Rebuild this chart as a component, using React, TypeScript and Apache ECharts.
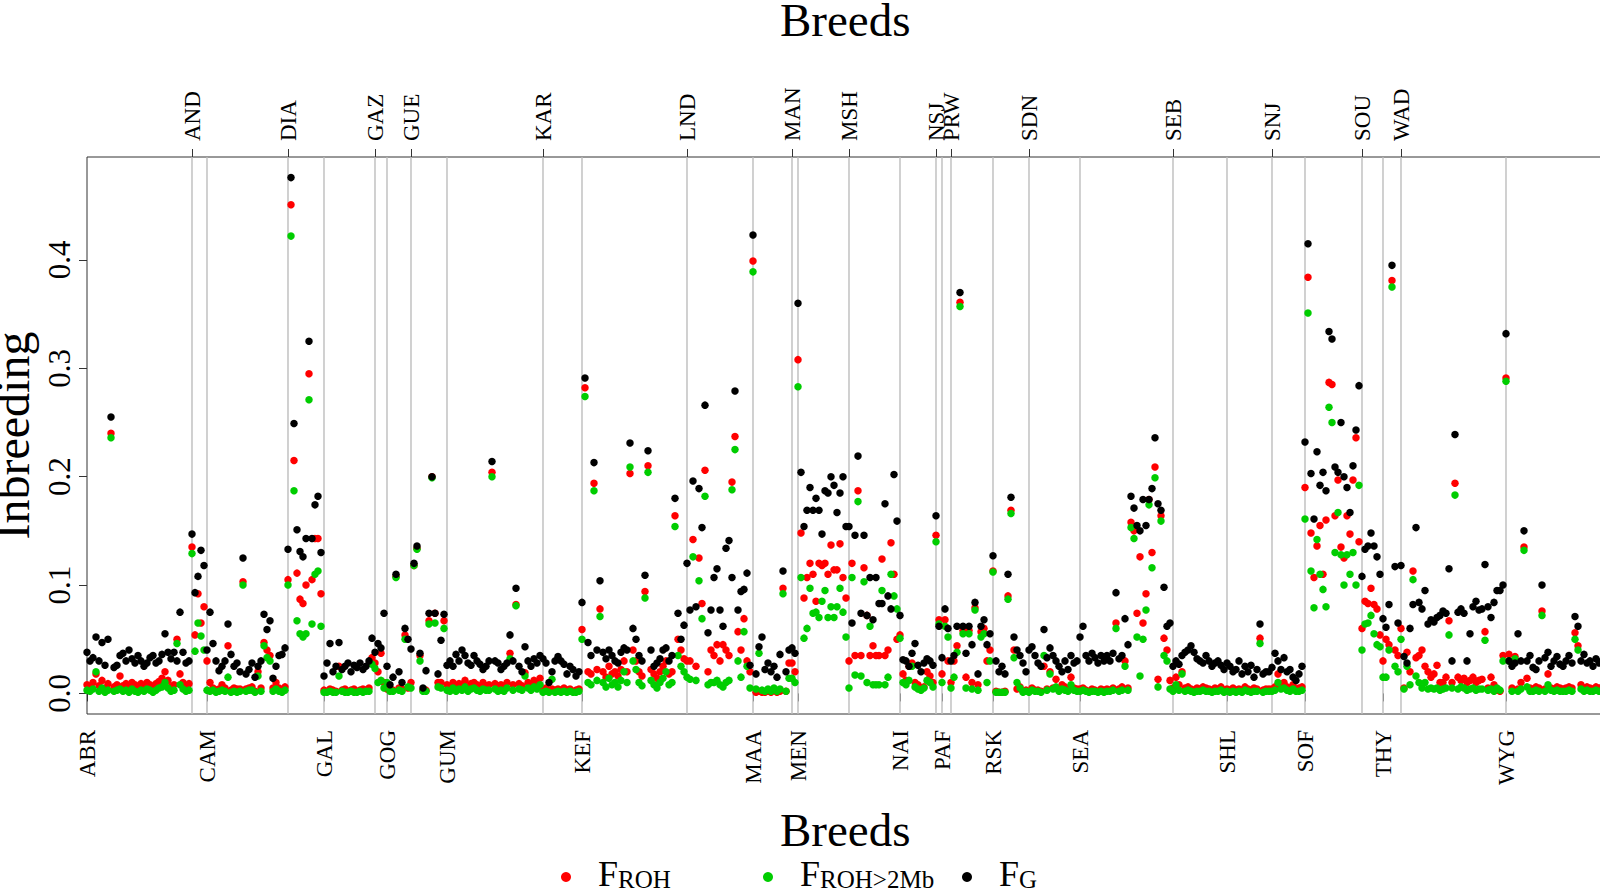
import React, { useEffect, useRef } from 'react';
import * as echarts from 'echarts';

// Breeds in plotting order (labels alternate bottom / top axis)
const breeds = ['ABR','AND','CAM','DIA','GAL','GAZ','GOG','GUE','GUM','KAR','KEF','LND','MAA','MAN','MEN','MSH','NAI','NSJ','PAF','PRW','RSK','SDN','SEA','SEB','SHL','SNJ','SOF','SOU','THY','WAD','WYG'];

// F_ROH per animal, one row per breed
const fROH: number[][] = [
  [0.008,0.006,0.01,0.018,0.007,0.012,0.005,0.009,0.24,0.006,0.008,0.016,0.007,0.009,0.006,0.01,0.008,0.006,0.009,0.007,0.01,0.008,0.006,0.009,0.011,0.014,0.02,0.012,0.006,0.008,0.05,0.018,0.01,0.007,0.009],
  [0.135,0.054,0.092,0.065,0.08],
  [0.03,0.01,0.005,0.003,0.004,0.008,0.005,0.044,0.003,0.005,0.004,0.004,0.103,0.004,0.005,0.006,0.002,0.02,0.005,0.047,0.04,0.035,0.005,0.01,0.005,0.003,0.006],
  [0.105,0.451,0.215,0.111,0.087,0.083,0.1,0.295,0.105,0.143,0.143,0.092],
  [0.003,0.002,0.004,0.003,0.002,0.025,0.003,0.004,0.002,0.003,0.004,0.002,0.003,0.004,0.003,0.005,0.033],
  [0.028,0.02,0.037,0.01],
  [0.004,0.003,0.003,0.108,0.005,0.004,0.054,0.005],
  [0.01,0.118,0.134,0.035,0.003,0.003,0.067,0.2,0.074,0.01,0.01,0.067],
  [0.008,0.006,0.01,0.007,0.009,0.008,0.012,0.006,0.009,0.01,0.008,0.006,0.01,0.007,0.008,0.204,0.009,0.007,0.008,0.006,0.01,0.037,0.008,0.082,0.009,0.007,0.019,0.01,0.008,0.012,0.009,0.014],
  [0.003,0.005,0.002,0.004,0.003,0.004,0.003,0.005,0.003,0.004,0.002,0.003,0.004],
  [0.059,0.282,0.02,0.018,0.194,0.022,0.078,0.02,0.015,0.025,0.018,0.02,0.016,0.022,0.03,0.02,0.203,0.04,0.03,0.02,0.016,0.094,0.21,0.022,0.018,0.014,0.02,0.025,0.03,0.018,0.02,0.164,0.05,0.04,0.032],
  [0.03,0.03,0.142,0.025,0.125,0.083,0.206,0.02,0.04,0.035,0.045,0.03,0.045,0.04,0.035,0.195,0.237,0.057,0.04,0.069,0.03,0.02],
  [0.399,0.001,0.002,0.001,0.001,0.002,0.001,0.003,0.001,0.002,0.097,0.002,0.028],
  [0.028,0.02],
  [0.308,0.148,0.088,0.107,0.12,0.11,0.085,0.12,0.118,0.12,0.11,0.137,0.114,0.114,0.138,0.107,0.088],
  [0.03,0.12,0.035,0.187,0.035,0.116,0.072,0.035,0.044,0.035,0.035,0.124,0.035,0.04,0.139,0.11,0.05],
  [0.054,0.018,0.012,0.025,0.028,0.01,0.008,0.005,0.006,0.02,0.016,0.01],
  [0.146,0.068],
  [0.018,0.068,0.03],
  [0.01,0.03,0.044,0.361,0.058,0.015,0.058,0.01,0.079,0.008,0.057,0.06,0.03,0.04],
  [0.113,0.002,0.001,0.001,0.002,0.09,0.169,0.04,0.004,0.006,0.002,0.003],
  [0.002,0.005,0.003,0.003,0.002,0.025,0.004,0.02,0.005,0.013,0.003,0.008,0.006,0.003,0.015,0.005,0.004],
  [0.004,0.005,0.003,0.002,0.004,0.003,0.002,0.004,0.003,0.004,0.003,0.005,0.065,0.004,0.006,0.03,0.005,0.158,0.15,0.074,0.126,0.065,0.092,0.179,0.13,0.209,0.013,0.164,0.051,0.04,0.012],
  [0.005,0.015,0.008,0.02,0.005,0.006,0.004,0.003,0.005,0.004,0.006,0.005,0.004,0.003,0.005,0.004,0.006,0.003],
  [0.004,0.003,0.005,0.003,0.004,0.003,0.006,0.004,0.003,0.005,0.004,0.051,0.003,0.004,0.004],
  [0.004,0.006,0.018,0.008,0.01,0.006,0.005,0.008,0.004,0.005,0.006],
  [0.19,0.384,0.148,0.107,0.136,0.155,0.11,0.16,0.287,0.285,0.164,0.197,0.135,0.125,0.164,0.147,0.197,0.236,0.14],
  [0.06,0.085,0.083,0.097,0.082,0.078,0.054],
  [0.03,0.05,0.045,0.381,0.04,0.035],
  [0.06,0.005,0.038,0.02,0.113,0.033,0.035,0.04,0.025,0.02,0.015,0.018,0.026,0.01,0.01,0.015,0.067,0.01,0.194,0.015,0.012,0.014,0.01,0.012,0.015,0.01,0.012,0.013,0.057,0.005,0.015,0.008,0.003,0.002,0.035],
  [0.291,0.036,0.005,0.034,0.004,0.01,0.135,0.014,0.005,0.004,0.006,0.005,0.076,0.004,0.018,0.005,0.004,0.006,0.005,0.004,0.005,0.006,0.005,0.056,0.044,0.008,0.005,0.006,0.005,0.004,0.006,0.005,0.004],
];

// F_ROH>2Mb per animal
const fROH2: number[][] = [
  [0.003,0.002,0.004,0.02,0.002,0.005,0.001,0.003,0.236,0.002,0.003,0.004,0.002,0.003,0.001,0.004,0.002,0.001,0.003,0.002,0.004,0.003,0.001,0.003,0.005,0.006,0.01,0.005,0.002,0.003,0.046,0.008,0.004,0.002,0.003],
  [0.129,0.039,0.065,0.053,0.04],
  [0.003,0.002,0.003,0.001,0.002,0.003,0.002,0.015,0.001,0.002,0.001,0.002,0.1,0.002,0.003,0.003,0.001,0.016,0.002,0.044,0.033,0.03,0.002,0.004,0.002,0.001,0.003],
  [0.1,0.422,0.187,0.067,0.055,0.052,0.055,0.271,0.064,0.11,0.113,0.062],
  [0.001,0.001,0.002,0.001,0.001,0.016,0.002,0.001,0.001,0.002,0.001,0.001,0.002,0.001,0.002,0.002,0.027],
  [0.023,0.01,0.012,0.005],
  [0.01,0.002,0.002,0.107,0.003,0.002,0.05,0.006],
  [0.005,0.118,0.133,0.03,0.002,0.002,0.064,0.199,0.065,0.006,0.005,0.06],
  [0.003,0.002,0.005,0.002,0.004,0.003,0.006,0.002,0.004,0.005,0.003,0.002,0.004,0.003,0.003,0.2,0.004,0.002,0.003,0.002,0.005,0.032,0.003,0.081,0.004,0.003,0.016,0.005,0.003,0.006,0.004,0.008],
  [0.001,0.002,0.001,0.013,0.001,0.002,0.001,0.002,0.001,0.002,0.001,0.001,0.002],
  [0.05,0.274,0.01,0.008,0.187,0.012,0.071,0.01,0.006,0.014,0.008,0.01,0.006,0.012,0.02,0.01,0.209,0.03,0.022,0.01,0.007,0.088,0.204,0.012,0.008,0.005,0.01,0.014,0.02,0.008,0.01,0.154,0.035,0.025,0.02],
  [0.015,0.013,0.126,0.012,0.104,0.069,0.182,0.008,0.01,0.01,0.012,0.008,0.006,0.01,0.012,0.188,0.225,0.03,0.015,0.057,0.025,0.005],
  [0.389,0.004,0.037,0.003,0.002,0.004,0.002,0.005,0.002,0.004,0.092,0.002,0.014],
  [0.014,0.01],
  [0.283,0.107,0.051,0.06,0.097,0.074,0.075,0.07,0.085,0.095,0.07,0.08,0.07,0.08,0.097,0.075,0.052],
  [0.005,0.107,0.017,0.177,0.016,0.103,0.01,0.062,0.008,0.008,0.008,0.095,0.008,0.015,0.11,0.09,0.078],
  [0.051,0.01,0.008,0.012,0.025,0.006,0.004,0.003,0.005,0.012,0.01,0.006],
  [0.14,0.064],
  [0.01,0.062,0.052],
  [0.005,0.015,0.038,0.357,0.055,0.005,0.055,0.004,0.077,0.003,0.052,0.055,0.01,0.03],
  [0.112,0.001,0.001,0.001,0.001,0.087,0.166,0.033,0.01,0.005,0.001,0.002],
  [0.001,0.003,0.002,0.002,0.001,0.035,0.003,0.018,0.004,0.006,0.002,0.004,0.003,0.002,0.008,0.003,0.002],
  [0.002,0.003,0.002,0.001,0.002,0.002,0.001,0.002,0.001,0.002,0.002,0.003,0.06,0.002,0.003,0.025,0.003,0.153,0.143,0.052,0.016,0.05,0.077,0.174,0.116,0.199,0.006,0.159,0.035,0.03,0.004],
  [0.002,0.008,0.003,0.018,0.002,0.003,0.002,0.001,0.002,0.002,0.003,0.002,0.002,0.001,0.002,0.002,0.003,0.001],
  [0.002,0.001,0.002,0.001,0.002,0.001,0.003,0.002,0.001,0.002,0.002,0.046,0.001,0.002,0.002],
  [0.002,0.003,0.01,0.004,0.005,0.003,0.002,0.004,0.002,0.002,0.003],
  [0.161,0.351,0.113,0.079,0.142,0.11,0.096,0.08,0.264,0.25,0.13,0.167,0.128,0.1,0.128,0.11,0.13,0.1,0.192],
  [0.04,0.064,0.065,0.072,0.055,0.045,0.043],
  [0.015,0.015,0.04,0.375,0.025,0.02],
  [0.05,0.004,0.025,0.008,0.105,0.016,0.01,0.005,0.01,0.004,0.005,0.004,0.005,0.003,0.004,0.005,0.054,0.005,0.183,0.004,0.006,0.005,0.003,0.004,0.005,0.003,0.004,0.004,0.049,0.003,0.004,0.002,0.005,0.003,0.03],
  [0.288,0.03,0.002,0.032,0.002,0.004,0.132,0.006,0.002,0.002,0.003,0.002,0.072,0.002,0.008,0.003,0.002,0.003,0.002,0.002,0.002,0.003,0.002,0.05,0.04,0.004,0.002,0.003,0.002,0.002,0.003,0.002,0.002],
];

// F_G (genomic relationship based) per animal
const fG: number[][] = [
  [0.038,0.03,0.033,0.052,0.03,0.047,0.026,0.05,0.255,0.024,0.026,0.035,0.037,0.03,0.04,0.032,0.028,0.035,0.03,0.025,0.028,0.033,0.035,0.028,0.03,0.036,0.055,0.038,0.032,0.038,0.03,0.075,0.038,0.028,0.03],
  [0.147,0.093,0.108,0.132,0.118],
  [0.04,0.075,0.046,0.03,0.021,0.025,0.03,0.064,0.036,0.025,0.028,0.02,0.125,0.018,0.022,0.028,0.015,0.025,0.03,0.073,0.059,0.067,0.014,0.025,0.035,0.036,0.042],
  [0.133,0.476,0.249,0.151,0.131,0.126,0.143,0.325,0.143,0.174,0.182,0.13],
  [0.016,0.028,0.046,0.02,0.025,0.047,0.022,0.025,0.028,0.02,0.026,0.024,0.028,0.022,0.025,0.03,0.051],
  [0.038,0.046,0.042,0.074],
  [0.025,0.008,0.015,0.11,0.02,0.01,0.06,0.05],
  [0.041,0.12,0.136,0.037,0.005,0.021,0.074,0.2,0.074,0.018,0.049,0.073],
  [0.026,0.03,0.025,0.036,0.03,0.04,0.035,0.028,0.026,0.035,0.03,0.027,0.022,0.025,0.03,0.214,0.03,0.028,0.022,0.025,0.028,0.054,0.03,0.097,0.025,0.02,0.043,0.03,0.025,0.032,0.028,0.035],
  [0.032,0.028,0.01,0.02,0.03,0.034,0.03,0.027,0.018,0.025,0.022,0.016,0.02],
  [0.084,0.291,0.047,0.035,0.213,0.04,0.104,0.038,0.032,0.04,0.035,0.03,0.028,0.038,0.042,0.04,0.231,0.06,0.05,0.035,0.03,0.109,0.224,0.04,0.025,0.028,0.032,0.04,0.042,0.03,0.035,0.18,0.074,0.05,0.063],
  [0.12,0.077,0.196,0.08,0.189,0.153,0.266,0.056,0.077,0.107,0.115,0.077,0.062,0.134,0.141,0.107,0.279,0.077,0.094,0.096,0.111,0.026],
  [0.423,0.018,0.043,0.052,0.022,0.028,0.02,0.025,0.015,0.036,0.113,0.02,0.04],
  [0.042,0.037],
  [0.36,0.204,0.154,0.169,0.19,0.169,0.18,0.169,0.147,0.187,0.185,0.2,0.192,0.167,0.185,0.2,0.154],
  [0.154,0.065,0.146,0.219,0.074,0.146,0.072,0.107,0.068,0.107,0.083,0.083,0.175,0.09,0.078,0.202,0.159],
  [0.072,0.031,0.03,0.025,0.037,0.046,0.026,0.02,0.028,0.032,0.03,0.026],
  [0.164,0.062],
  [0.033,0.078,0.06],
  [0.03,0.035,0.062,0.37,0.062,0.037,0.062,0.045,0.084,0.018,0.062,0.068,0.045,0.055],
  [0.127,0.03,0.02,0.025,0.018,0.11,0.181,0.052,0.04,0.035,0.028,0.02],
  [0.04,0.043,0.035,0.028,0.025,0.059,0.033,0.042,0.035,0.03,0.025,0.02,0.03,0.022,0.035,0.028,0.03],
  [0.052,0.062,0.035,0.03,0.037,0.033,0.028,0.035,0.03,0.035,0.03,0.037,0.093,0.032,0.035,0.069,0.045,0.182,0.171,0.155,0.15,0.179,0.155,0.179,0.189,0.236,0.175,0.169,0.098,0.062,0.065],
  [0.025,0.03,0.027,0.035,0.038,0.04,0.044,0.038,0.032,0.03,0.028,0.035,0.03,0.025,0.028,0.03,0.026,0.022],
  [0.028,0.025,0.02,0.022,0.03,0.018,0.025,0.02,0.026,0.015,0.022,0.064,0.018,0.02,0.02],
  [0.024,0.037,0.03,0.022,0.033,0.02,0.022,0.015,0.012,0.018,0.025],
  [0.232,0.415,0.203,0.161,0.223,0.192,0.204,0.187,0.334,0.327,0.209,0.204,0.25,0.2,0.19,0.167,0.21,0.243,0.284],
  [0.108,0.133,0.136,0.148,0.136,0.126,0.11],
  [0.069,0.061,0.082,0.395,0.117,0.065],
  [0.118,0.034,0.028,0.06,0.082,0.153,0.084,0.078,0.095,0.064,0.068,0.066,0.07,0.072,0.076,0.074,0.115,0.03,0.239,0.075,0.078,0.074,0.03,0.055,0.08,0.085,0.077,0.078,0.119,0.08,0.07,0.084,0.095,0.095,0.1],
  [0.332,0.03,0.025,0.028,0.055,0.03,0.15,0.03,0.035,0.024,0.022,0.03,0.1,0.033,0.038,0.025,0.03,0.034,0.027,0.025,0.03,0.035,0.028,0.071,0.062,0.03,0.036,0.028,0.03,0.025,0.032,0.028,0.03],
];

const yTicks = [0, 0.1, 0.2, 0.3, 0.4];
const seriesNames = ['FROH', 'FROH>2Mb', 'FG'];
const subscripts = ['ROH', 'ROH>2Mb', 'G'];
const colors = ['#FF0000', '#00CD00', '#000000'];

export default function App() {
  const ref = useRef<HTMLDivElement>(null);
  useEffect(() => {
    if (!ref.current) return;
    const chart = echarts.init(ref.current, null, { renderer: 'svg' });
    const starts: number[] = [];
    let acc = 0;
    fG.forEach((a) => { starts.push(acc); acc += a.length; });
    const xMax = acc - 0.5;
    const pxPerAnimal = 3;
    const nameAt = new Map<number, string>(starts.map((s, i) => [s, breeds[i]]));
    const bottomStarts = starts.filter((_, i) => i % 2 === 0);
    const topStarts = starts.filter((_, i) => i % 2 === 1);
    const toPoints = (m: number[][]) => m.flatMap((arr, b) => arr.map((v, j) => [starts[b] + j, v]));
    const font = 'Liberation Serif';
    const metrics = [fROH, fROH2, fG];
    const legendLeft = [561, 763, 962];

    const xBase = (pos: 'bottom' | 'top', vals: number[], gap: number, rot: number) => ({
      type: 'value', min: 0, max: xMax, position: pos,
      axisLine: { show: false }, splitLine: { show: false },
      axisTick: { show: true, customValues: vals, length: 8, lineStyle: { color: '#333', width: 1 } },
      axisLabel: {
        customValues: vals, rotate: rot, fontSize: 23, fontFamily: font, color: '#000', margin: 16,
        formatter: (v: number) => nameAt.get(v) ?? '',
      },
      name: 'Breeds', nameLocation: 'middle', nameGap: gap,
      nameTextStyle: { fontSize: 47, fontFamily: font, color: '#000' },
    });

    chart.setOption({
      animation: false,
      backgroundColor: '#fff',
      textStyle: { fontFamily: font },
      grid: {
        left: 87, top: 157, width: xMax * pxPerAnimal, height: 557, show: true,
        borderColor: '#333', borderWidth: 1, containLabel: false, outerBoundsMode: 'none',
      },
      xAxis: [xBase('bottom', bottomStarts, 92, 90), xBase('top', topStarts, 114, -90)],
      yAxis: {
        type: 'value', min: -0.019, max: 0.495,
        axisLine: { show: false }, splitLine: { show: false },
        axisTick: { show: true, customValues: yTicks, length: 8, lineStyle: { color: '#333' } },
        axisLabel: {
          customValues: yTicks, rotate: 90, fontSize: 31, fontFamily: font, color: '#000', margin: 12,
          formatter: (v: number) => v.toFixed(1),
        },
        name: 'Inbreeding', nameLocation: 'middle', nameGap: 44,
        nameTextStyle: { fontSize: 48, fontFamily: font, color: '#000' },
      },
      legend: seriesNames.map((n, i) => ({
        data: [n], left: legendLeft[i], top: 856, icon: 'circle', itemWidth: 10, itemHeight: 10,
        padding: 0, itemGap: 0, selectedMode: false,
        formatter: () => `{sp| }{F|F}{s|${subscripts[i]}}`,
        textStyle: {
          fontFamily: font, color: '#000',
          rich: {
            sp: { width: 22, fontSize: 10 },
            F: { fontSize: 36, lineHeight: 30, verticalAlign: 'bottom', fontFamily: font, color: '#000' },
            s: { fontSize: 25, lineHeight: 19, verticalAlign: 'bottom', fontFamily: font, color: '#000' },
          },
        },
      })),
      series: [
        {
          type: 'custom', name: 'breedLines', z: 1, silent: true,
          data: starts.slice(1).map((s) => [s]),
          encode: { x: 0 },
          renderItem: (params: any, api: any) => {
            const x = api.coord([api.value(0), 0])[0];
            const cs = params.coordSys;
            return { type: 'line', shape: { x1: x, y1: cs.y, x2: x, y2: cs.y + cs.height }, style: { stroke: '#bdbdbd', lineWidth: 1.4 } };
          },
        },
        ...metrics.map((m, i) => ({
          type: 'scatter', name: seriesNames[i], data: toPoints(m), symbol: 'circle', symbolSize: 7.5,
          itemStyle: { color: colors[i], opacity: 1 }, z: 3 + i, silent: true,
        })),
      ],
    });
    return () => chart.dispose();
  }, []);
  return <div ref={ref} style={{ position: 'absolute', left: 0, top: 0, width: 1600, height: 888 }} />;
}
